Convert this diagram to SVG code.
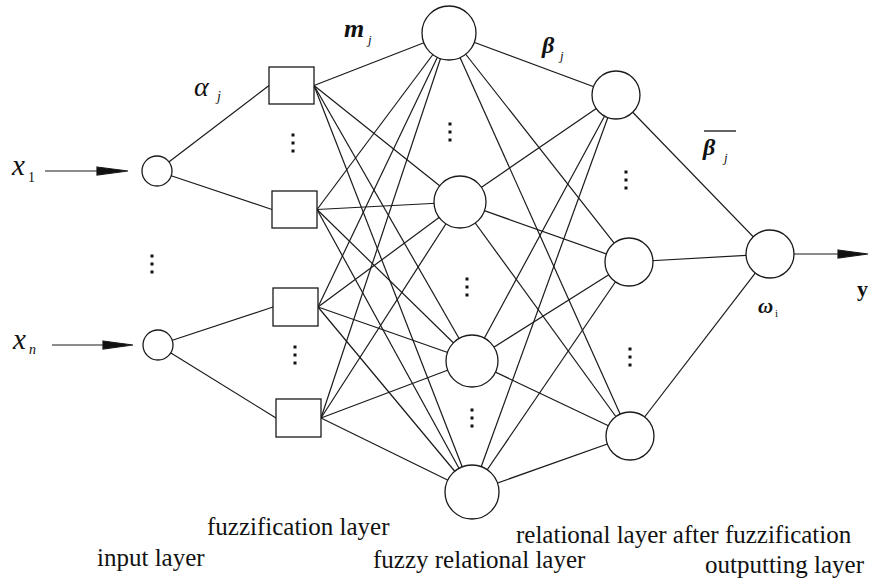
<svg xmlns="http://www.w3.org/2000/svg" width="871" height="579" viewBox="0 0 871 579">
<style>
.c{stroke:#1a1a1a;stroke-width:1.2;fill:none}
.n{stroke:#1a1a1a;stroke-width:1.3;fill:#fff}
.d{fill:#111}
.ah{fill:#111}
</style>
<rect width="871" height="579" fill="#fff"/>
<g id="connectors" class="c">
<line x1="45" y1="171" x2="100" y2="171"/>
<polygon class="ah" points="97,167 128,171 97,175"/>
<line x1="52" y1="345" x2="106" y2="345"/>
<polygon class="ah" points="103,341 133,345 103,349"/>
<line x1="794" y1="254" x2="840" y2="254"/>
<polygon class="ah" points="838,250 868,254 838,258"/>
<line x1="157" y1="171" x2="269" y2="85.5"/>
<line x1="157" y1="171" x2="272" y2="209.5"/>
<line x1="158" y1="345" x2="273" y2="307"/>
<line x1="158" y1="345" x2="276" y2="418"/>
<line x1="314" y1="85.5" x2="449" y2="33"/>
<line x1="314" y1="85.5" x2="460" y2="202"/>
<line x1="314" y1="85.5" x2="472" y2="361"/>
<line x1="314" y1="85.5" x2="472" y2="492"/>
<line x1="317" y1="209.5" x2="449" y2="33"/>
<line x1="317" y1="209.5" x2="460" y2="202"/>
<line x1="317" y1="209.5" x2="472" y2="361"/>
<line x1="317" y1="209.5" x2="472" y2="492"/>
<line x1="318" y1="307" x2="449" y2="33"/>
<line x1="318" y1="307" x2="460" y2="202"/>
<line x1="318" y1="307" x2="472" y2="361"/>
<line x1="318" y1="307" x2="472" y2="492"/>
<line x1="321" y1="418" x2="449" y2="33"/>
<line x1="321" y1="418" x2="460" y2="202"/>
<line x1="321" y1="418" x2="472" y2="361"/>
<line x1="321" y1="418" x2="472" y2="492"/>
<line x1="449" y1="33" x2="616" y2="95"/>
<line x1="449" y1="33" x2="629" y2="262"/>
<line x1="449" y1="33" x2="630" y2="436"/>
<line x1="460" y1="202" x2="616" y2="95"/>
<line x1="460" y1="202" x2="629" y2="262"/>
<line x1="460" y1="202" x2="630" y2="436"/>
<line x1="472" y1="361" x2="616" y2="95"/>
<line x1="472" y1="361" x2="629" y2="262"/>
<line x1="472" y1="361" x2="630" y2="436"/>
<line x1="472" y1="492" x2="616" y2="95"/>
<line x1="472" y1="492" x2="629" y2="262"/>
<line x1="472" y1="492" x2="630" y2="436"/>
<line x1="616" y1="95" x2="770" y2="254"/>
<line x1="629" y1="262" x2="770" y2="254"/>
<line x1="630" y1="436" x2="770" y2="254"/>
</g>
<g id="input1"><circle class="n" cx="157" cy="171" r="15"/></g>
<g id="inputn"><circle class="n" cx="158" cy="345" r="15"/></g>
<g id="fz1"><rect class="n" x="269" y="67" width="45" height="37"/></g>
<g id="fz2"><rect class="n" x="272" y="191" width="45" height="37"/></g>
<g id="fz3"><rect class="n" x="273" y="288" width="45" height="38"/></g>
<g id="fz4"><rect class="n" x="276" y="399" width="45" height="38"/></g>
<g id="fr1"><circle class="n" cx="449" cy="33" r="27"/></g>
<g id="fr2"><circle class="n" cx="460" cy="202" r="26"/></g>
<g id="fr3"><circle class="n" cx="472" cy="361" r="26"/></g>
<g id="fr4"><circle class="n" cx="472" cy="492" r="27"/></g>
<g id="rl1"><circle class="n" cx="616" cy="95" r="24"/></g>
<g id="rl2"><circle class="n" cx="629" cy="262" r="24"/></g>
<g id="rl3"><circle class="n" cx="630" cy="436" r="24"/></g>
<g id="out"><circle class="n" cx="770" cy="254" r="24"/></g>
<g id="dots" class="d">
<rect x="291.5" y="133.5" width="3" height="3"/><rect x="291.5" y="141.5" width="3" height="3"/><rect x="291.5" y="149.5" width="3" height="3"/>
<rect x="150.5" y="254.5" width="3" height="3"/><rect x="150.5" y="262.5" width="3" height="3"/><rect x="150.5" y="270.5" width="3" height="3"/>
<rect x="293.5" y="345.5" width="3" height="3"/><rect x="293.5" y="353.5" width="3" height="3"/><rect x="293.5" y="361.5" width="3" height="3"/>
<rect x="448.5" y="122.5" width="3" height="3"/><rect x="448.5" y="130.5" width="3" height="3"/><rect x="448.5" y="138.5" width="3" height="3"/>
<rect x="465.5" y="277.5" width="3" height="3"/><rect x="465.5" y="285.5" width="3" height="3"/><rect x="465.5" y="293.5" width="3" height="3"/>
<rect x="470.5" y="408.5" width="3" height="3"/><rect x="470.5" y="416.5" width="3" height="3"/><rect x="470.5" y="424.5" width="3" height="3"/>
<rect x="624.5" y="170.5" width="3" height="3"/><rect x="624.5" y="178.5" width="3" height="3"/><rect x="624.5" y="186.5" width="3" height="3"/>
<rect x="628.5" y="347.5" width="3" height="3"/><rect x="628.5" y="355.5" width="3" height="3"/><rect x="628.5" y="363.5" width="3" height="3"/>
</g>
<g id="math" font-family="'Liberation Serif', 'Times New Roman', serif" fill="#111">
<text x="12" y="175" font-size="29" font-style="italic">x</text>
<text x="28" y="182" font-size="14">1</text>
<text x="13" y="349" font-size="29" font-style="italic">x</text>
<text x="29" y="354" font-size="14" font-style="italic">n</text>
<text x="194" y="96" font-size="28" font-style="italic">α</text>
<text x="217" y="101" font-size="14" font-style="italic">j</text>
<text x="344" y="37" font-size="26" font-style="italic" font-weight="bold">m</text>
<text x="368" y="44" font-size="13" font-style="italic">j</text>
<text x="542" y="53" font-size="24" font-style="italic" font-weight="bold">β</text>
<text x="560" y="60" font-size="13" font-style="italic">j</text>
<line x1="704" y1="131" x2="736" y2="131" stroke="#111" stroke-width="1.3"/>
<text x="703" y="155" font-size="24" font-style="italic" font-weight="bold">β</text>
<text x="724" y="162" font-size="13" font-style="italic">j</text>
<text x="758" y="313" font-size="21" font-style="italic" font-weight="bold">ω</text>
<text x="775" y="317" font-size="11">i</text>
<text x="857" y="296" font-size="22" font-weight="bold">y</text>
</g>
<g id="labels" font-family="'Liberation Serif', 'Times New Roman', serif" font-size="25" fill="#111">
<text x="97" y="566">input layer</text>
<text x="207" y="535">fuzzification layer</text>
<text x="373" y="568">fuzzy relational layer</text>
<text x="516" y="543">relational layer after fuzzification</text>
<text x="705" y="573">outputting layer</text>
</g>
</svg>
